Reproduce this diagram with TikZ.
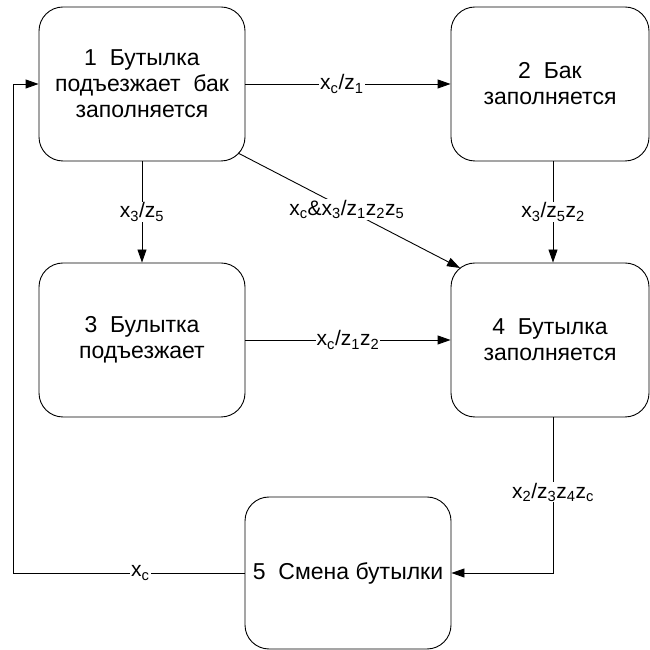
\documentclass[tikz,border=0pt]{standalone}
\usepackage{fontspec}
\setmainfont{Liberation Sans}
\usetikzlibrary{arrows.meta,calc}
\begin{document}
\begin{tikzpicture}[x=1pt,y=1pt,
  state/.style={draw=black,line width=0.9pt,rounded corners=24pt,
    minimum width=206pt,minimum height=154pt,align=center,
    font=\fontsize{23}{26}\selectfont,inner sep=0pt},
  arr/.style={draw=black,line width=0.9pt,-{Triangle[length=13pt,width=9pt]}},
  lbl/.style={fill=white,inner sep=1pt,font=\fontsize{21}{24}\selectfont}]
\useasboundingbox (0,0) rectangle (650,650);
\begin{scope}
\clip (0,0) rectangle (650,650);
% states
\node[state] (b1) at (142,566) {1\ \ Бутылка\\подъезжает\ \ бак\\заполняется};
\node[state,minimum width=198pt] (b2) at (550,566) {2\ \ Бак\\заполняется};
\node[state] (b3) at (142,310) {3\ \ Булытка\\подъезжает};
\node[state,minimum width=198pt] (b4) at (550,310) {4\ \ Бутылка\\заполняется};
\node[state,minimum height=152pt] (b5) at (348,77) {5\ \ Смена бутылки};
\coordinate (fb) at (13,77);
\coordinate (d1) at (238,497);
\coordinate (d4) at (460,382);
\end{scope}
% transitions
\draw[arr] (b1.east) -- node[lbl,pos=0.47]{x\textsubscript{c}/z\textsubscript{1}} (b2.west);
\draw[arr] (b1.south) -- node[lbl]{x\textsubscript{3}/z\textsubscript{5}} (b3.north);
\draw[arr] ([xshift=3pt]b2.south) -- node[lbl]{x\textsubscript{3}/z\textsubscript{5}z\textsubscript{2}} ([xshift=3pt]b4.north);
\draw[arr] (d1) -- node[lbl,pos=0.49]{x\textsubscript{c}\&x\textsubscript{3}/z\textsubscript{1}z\textsubscript{2}z\textsubscript{5}} (d4);
\draw[arr] (b3.east) -- node[lbl]{x\textsubscript{c}/z\textsubscript{1}z\textsubscript{2}} (b4.west);
\draw[arr] ([xshift=3pt]b4.south) -- node[lbl,pos=0.48]{x\textsubscript{2}/z\textsubscript{3}z\textsubscript{4}z\textsubscript{c}} ([xshift=3pt]b4.south |- b5.east) -- (b5.east);
\draw[arr] (b5.west) -- node[lbl,pos=0.45]{x\textsubscript{c}} (fb) |- (b1.west);
\end{tikzpicture}
\end{document}
